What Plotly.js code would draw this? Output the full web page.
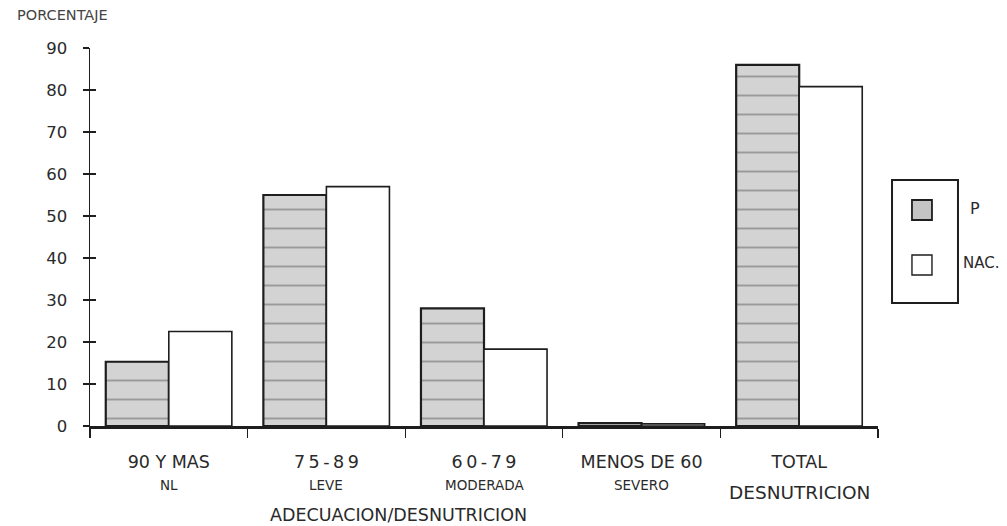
<!DOCTYPE html>
<html>
<head>
<meta charset="utf-8">
<script src="https://cdn.plot.ly/plotly-3.0.1.min.js"></script>
<style>
  html, body { margin: 0; padding: 0; background: #ffffff; }
  #chart { width: 1007px; height: 526px; }
</style>
</head>
<body>
<div id="chart"></div>
<script>
// Adecuación peso/talla: porcentaje por grado de desnutrición
const categories = ['90 Y MAS', '7\u20095\u2009-\u20098\u20099', '6\u20090\u2009-\u20097\u20099', 'MENOS DE 60', 'TOTAL'];
const subLabels = ['NL', 'LEVE', 'MODERADA', 'SEVERO', 'DESNUTRICION'];
const seriesNames = ['P', 'NAC.'];
const valuesP = [15.3, 55, 28, 0.7, 86];
const valuesNAC = [22.5, 57, 18.3, 0.5, 80.8];
const yTicks = [0, 10, 20, 30, 40, 50, 60, 70, 80, 90];

const FONT = 'DejaVu Sans, Liberation Sans, Arial, sans-serif';
const INK = '#1e1e1e';
const TEXT = '#2a2a2a';

const traceP = {
  type: 'bar',
  name: seriesNames[0],
  x: categories,
  y: valuesP,
  marker: {
    color: '#d3d3d3',
    line: { color: INK, width: 2.2 },
    pattern: { shape: '-', bgcolor: '#d3d3d3', fgcolor: '#9a9a9a', size: 19, solidity: 0.1 }
  },
  hoverinfo: 'x+y'
};

const traceNAC = {
  type: 'bar',
  name: seriesNames[1],
  x: categories,
  y: valuesNAC,
  marker: { color: '#ffffff', line: { color: INK, width: 1.6 } },
  hoverinfo: 'x+y'
};

// second lines of the category labels, anchored to each category
const subAnnotations = categories.map((c, i) => {
  const last = i === categories.length - 1;
  return {
    x: c, xref: 'x', yref: 'paper',
    y: last ? -0.176 : -0.156,
    yanchor: 'middle', xanchor: 'center',
    text: subLabels[i], showarrow: false,
    font: { family: FONT, size: last ? 18.5 : 13.5, color: TEXT }
  };
});

// hand-drawn legend: box with swatches, labels sitting outside the frame
const legendShapes = [
  { type: 'rect', xref: 'paper', yref: 'paper', x0: 1.0178, x1: 1.1015, y0: 0.3254, y1: 0.6508,
    line: { color: INK, width: 2 }, fillcolor: 'rgba(0,0,0,0)' },
  { type: 'rect', xref: 'paper', yref: 'paper', x0: 1.0431, x1: 1.0685, y0: 0.545, y1: 0.5979,
    line: { color: INK, width: 1.8 }, fillcolor: '#c4c4c4' },
  { type: 'rect', xref: 'paper', yref: 'paper', x0: 1.0431, x1: 1.0685, y0: 0.3995, y1: 0.4524,
    line: { color: INK, width: 1.4 }, fillcolor: '#ffffff' }
];

const legendLabels = [
  { xref: 'paper', yref: 'paper', x: 1.1142, y: 0.5767, xanchor: 'left', yanchor: 'middle',
    text: seriesNames[0], showarrow: false, font: { family: FONT, size: 16, color: TEXT } },
  { xref: 'paper', yref: 'paper', x: 1.1053, y: 0.4312, xanchor: 'left', yanchor: 'middle',
    text: seriesNames[1], showarrow: false, font: { family: FONT, size: 15, color: TEXT } }
];

const layout = {
  width: 1007,
  height: 526,
  margin: { l: 90, r: 129, t: 48, b: 100 },
  paper_bgcolor: '#ffffff',
  plot_bgcolor: '#ffffff',
  barmode: 'group',
  bargap: 0.2,
  bargroupgap: 0,
  showlegend: false,
  font: { family: FONT, color: TEXT },
  xaxis: {
    type: 'category',
    showgrid: false,
    zeroline: false,
    showline: true,
    linecolor: INK,
    linewidth: 2.5,
    ticks: 'outside',
    tickson: 'boundaries',
    ticklen: 9,
    tickwidth: 1.2,
    tickcolor: INK,
    ticklabelstandoff: 18,
    tickfont: { family: FONT, size: 17.5, color: TEXT }
  },
  yaxis: {
    range: [0, 90],
    tickvals: yTicks,
    showgrid: false,
    zeroline: false,
    showline: true,
    linecolor: INK,
    linewidth: 1.5,
    ticks: 'outside',
    ticklen: 6,
    tickwidth: 1.5,
    tickcolor: INK,
    ticklabelstandoff: 12,
    tickfont: { family: FONT, size: 16.5, color: TEXT }
  },
  // inner half of the y tick marks, so they cross the axis line
  yaxis2: {
    overlaying: 'y',
    anchor: 'x',
    side: 'left',
    range: [0, 90],
    tickvals: yTicks,
    showgrid: false,
    zeroline: false,
    showline: false,
    ticks: 'inside',
    ticklen: 6,
    tickwidth: 1.5,
    tickcolor: INK,
    showticklabels: false
  },
  shapes: legendShapes,
  annotations: [
    { xref: 'paper', yref: 'paper', x: -0.0343, y: 1.087, xanchor: 'center', yanchor: 'middle',
      text: 'PORCENTAJE', showarrow: false, font: { family: FONT, size: 14.5, color: '#444' } },
    { xref: 'paper', yref: 'paper', x: 0.391, y: -0.2354, xanchor: 'center', yanchor: 'middle',
      text: 'ADECUACION/DESNUTRICION', showarrow: false, font: { family: FONT, size: 17.5, color: TEXT } }
  ].concat(subAnnotations, legendLabels)
};

// an empty trace keeps the overlaid tick axis drawn
const tickHolder = { type: 'scatter', x: [categories[0]], y: [null], yaxis: 'y2', hoverinfo: 'skip', showlegend: false };

Plotly.newPlot('chart', [traceP, traceNAC, tickHolder], layout, { displayModeBar: false, staticPlot: true });
</script>
</body>
</html>
